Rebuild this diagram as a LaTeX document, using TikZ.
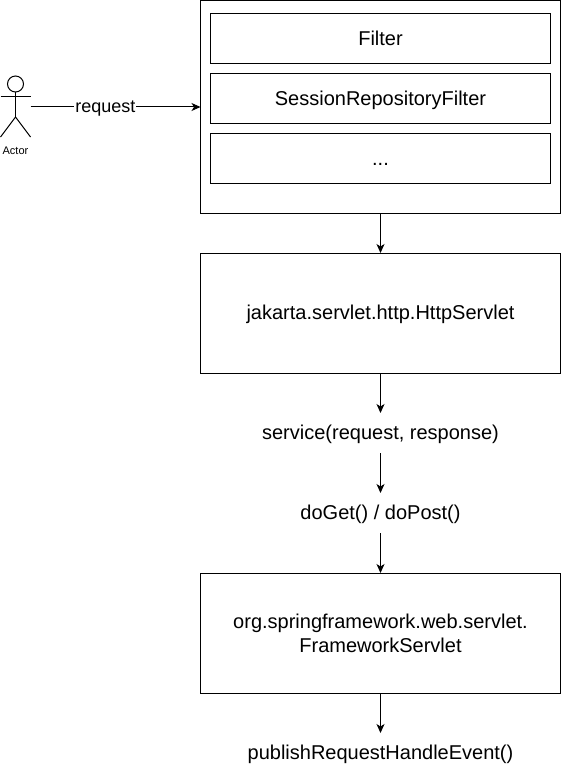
\documentclass[tikz,border=0pt]{standalone}
\usepackage{fontspec}
\setmainfont{Liberation Sans}
\usetikzlibrary{arrows.meta,positioning}

\begin{document}
\begin{tikzpicture}[x=1pt, y=-1pt, line width=1pt,
		flowbox/.style={draw, rectangle, inner sep=0pt, outer sep=0pt, minimum width=360pt, minimum height=120pt, align=center, font=\fontsize{20}{24}\selectfont},
		oneline/.style={text height=18pt, text depth=4.5pt},
		filterbox/.style={flowbox, oneline, minimum width=340pt, minimum height=50pt},
		callnode/.style={rectangle, oneline, inner sep=0pt, outer sep=0pt, minimum width=360pt, minimum height=40pt, font=\fontsize{20}{24}\selectfont},
		flow/.style={-{Stealth[length=9pt, width=8pt, inset=2.5pt]}}
	]

		\def\xmid{380.5} % middle of the right column
		\def\moretxt{...}

		\useasboundingbox (0,0) rectangle (561,773);

		% outer box and the filters in it
		\node[flowbox, minimum height=212pt] (chain) at (\xmid,107) {};
		\foreach \i/\y/\txt in {1/38.5/Filter, 2/98.5/SessionRepositoryFilter, 3/158.5/\moretxt}
			\node[filterbox] (filter\i) at (\xmid,\y) {\txt};

		% right column
		\node[flowbox, oneline] (servlet) at (\xmid,313) {jakarta.servlet.http.HttpServlet};
		\node[callnode] (service) at (\xmid,433) {service(request, response)};
		\node[callnode] (doget) at (\xmid,513) {doGet() / doPost()};
		\node[flowbox] (framework) at (\xmid,633) {org.springframework.web.servlet.\\FrameworkServlet};
		\node[callnode] (publish) at (\xmid,753) {publishRequestHandleEvent()};

		% actor
		\node[rectangle, inner sep=0pt, outer sep=0pt, minimum width=30pt, minimum height=60pt] (actor) at (15.5,107) {};
		\node[font=\fontsize{11}{13}\selectfont, inner sep=0pt] (actorlabel) at (15.5,151) {Actor};
		\draw (15.5,84) circle (8pt);
		\draw (15.5,92) -- (15.5,117);
		\draw (0.5,97) -- (30.5,97);
		\draw (0.5,137) -- (15.5,117) -- (30.5,137);

		% connectors
		\draw[flow] (actor) -- node[pos=0.44, fill=white, inner sep=1pt, text height=14pt, text depth=3.5pt, font=\fontsize{18}{22}\selectfont] (request) {request} (chain);
		\foreach \a/\b in {chain/servlet, servlet/service, service/doget, doget/framework, framework/publish}
			\draw[flow] (\a) -- (\b);

	\end{tikzpicture}
\end{document}
